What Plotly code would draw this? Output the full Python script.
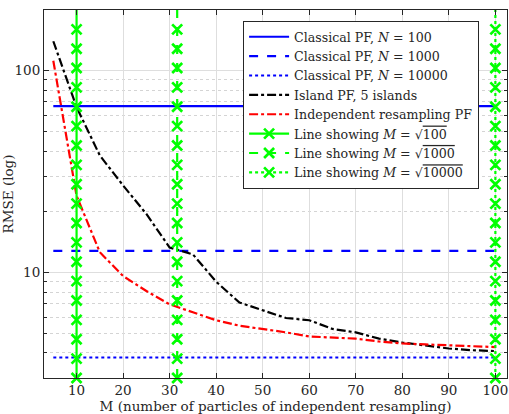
import plotly.graph_objects as go

# ---------------- data ----------------
M = [5, 10, 15, 20, 25, 30, 35, 40, 45, 50, 55, 60, 65, 70, 75, 80, 85, 90, 95, 100]
island_pf = [140, 66, 38, 27, 19.5, 13.3, 12.3, 9.0, 7.1, 6.5, 5.95, 5.8, 5.25, 5.05, 4.7, 4.5, 4.35, 4.2, 4.12, 4.08]
indep_pf = [112, 24, 12.6, 9.6, 8.1, 6.95, 6.35, 5.8, 5.45, 5.25, 5.05, 4.82, 4.77, 4.7, 4.55, 4.45, 4.4, 4.35, 4.3, 4.27]

classical_N = [100, 1000, 10000]
classical_rmse = [66.7, 12.8, 3.79]
classical_x = [5, 100]

sqrt_M = [10, 31.62, 100]
sqrt_labels = ["100", "1000", "10000"]
marker_y = [3.0, 3.742, 4.668, 5.823, 7.264, 9.061, 11.30, 14.10, 17.59, 21.94,
            27.37, 34.14, 42.59, 53.12, 66.27, 82.66, 103.1, 128.6, 160.4, 200.1]

x_ticks = [10, 20, 30, 40, 50, 60, 70, 80, 90, 100]
y_ticks = [10, 100]

FONT = "DejaVu Serif"
BLUE = "#0000ff"
GREEN = "#00ff00"
TXT = "#262626"

fig = go.Figure()

dashes = ["solid", "dash", "dot"]
for N, r, d in zip(classical_N, classical_rmse, dashes):
    fig.add_trace(go.Scatter(
        x=classical_x, y=[r, r], mode="lines",
        line=dict(color=BLUE, width=2.2, dash=d),
        name=f"Classical PF, <i>N</i> = {N}"))

fig.add_trace(go.Scatter(x=M, y=island_pf, mode="lines",
                         line=dict(color="black", width=2.2, dash="dashdot"),
                         name="Island PF, 5 islands"))
fig.add_trace(go.Scatter(x=M, y=indep_pf, mode="lines",
                         line=dict(color="#ff0000", width=2.2, dash="dashdot"),
                         name="Independent resampling PF"))

for xm, lab, d in zip(sqrt_M, sqrt_labels, dashes):
    fig.add_trace(go.Scatter(
        x=[xm] * len(marker_y), y=marker_y, mode="lines+markers",
        line=dict(color=GREEN, width=2.2, dash=d),
        marker=dict(symbol="x-thin", size=10, line=dict(color=GREEN, width=2.7)),
        cliponaxis=False,
        name=f"Line showing <i>M</i> = √<span style='text-decoration:overline'>{lab}</span>"))

axis_common = dict(showline=True, linecolor=TXT, linewidth=1, mirror="ticks",
                   ticks="inside", ticklen=5, tickcolor=TXT,
                   tickfont=dict(family=FONT, size=13.5, color=TXT),
                   zeroline=False)

fig.update_xaxes(range=[3, 102.5], tickvals=x_ticks, showgrid=True,
                 gridcolor="#dedede", gridwidth=1,
                 title=dict(text="M (number of particles of independent resampling)",
                            font=dict(family=FONT, size=13.5, color=TXT), standoff=0),
                 **axis_common)
fig.update_yaxes(type="log", range=[0.4771, 2.3010], tickvals=y_ticks,
                 showgrid=True, gridcolor="#dedede", gridwidth=1,
                 minor=dict(dtick="D1", ticks="inside", ticklen=3, tickcolor=TXT,
                            showgrid=True, gridcolor="#d4d4d4", griddash="dot", gridwidth=1),
                 title=dict(text="RMSE (log)",
                            font=dict(family=FONT, size=13.5, color=TXT), standoff=4),
                 **axis_common)

fig.update_layout(
    width=509, height=414,
    margin=dict(l=41, r=1, t=10, b=36),
    plot_bgcolor="white", paper_bgcolor="white",
    legend=dict(x=0.43, y=0.97, xanchor="left", yanchor="top",
                bgcolor="white", bordercolor=TXT, borderwidth=1,
                font=dict(family=FONT, size=12.6, color=TXT),
                tracegroupgap=0, itemwidth=40),
    showlegend=True,
)

fig.write_html("out.html", config={"displayModeBar": False},
               post_script="document.body.style.margin='0';")
